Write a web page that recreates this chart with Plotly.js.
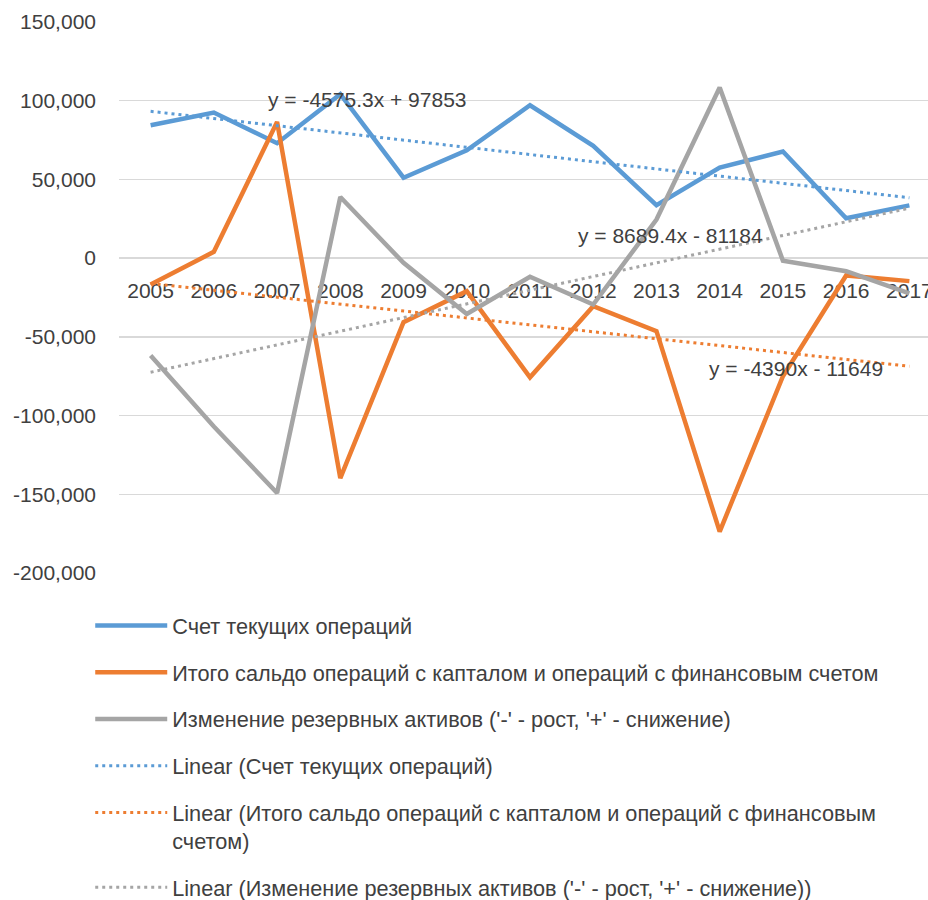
<!DOCTYPE html>
<html>
<head>
<meta charset="utf-8">
<script src="https://cdn.plot.ly/plotly-3.0.1.min.js"></script>
<style>
html, body { margin: 0; padding: 0; width: 928px; height: 900px; overflow: hidden; background: #fff; }
#chart { width: 941px; height: 930px; }
</style>
</head>
<body>
<div id="chart"></div>
<script>
const years = ['2005','2006','2007','2008','2009','2010','2011','2012','2013','2014','2015','2016','2017'];
const currentAccount = [84400, 92500, 73000, 104100, 51100, 68500, 97100, 71300, 33700, 57500, 67700, 25300, 33500];
const capitalFinancial = [-16700, 4000, 86500, -139700, -40700, -21000, -75700, -30500, -46400, -173700, -75000, -11000, -14600];
const reserveChange = [-61900, -106900, -149200, 38800, -3000, -35500, -11800, -29500, 24500, 108400, -1600, -8300, -22400];

const seriesNames = [
  'Счет текущих операций',
  'Итого сальдо операций с капталом и операций с финансовым счетом',
  "Изменение резервных активов ('-' - рост, '+' - снижение)"
];
const trendNames = [
  'Linear (Счет текущих операций)',
  'Linear (Итого сальдо операций с капталом и операций с финансовым<br>счетом)',
  "Linear (Изменение резервных активов ('-' - рост, '+' - снижение))"
];
// trendline equations as printed on the chart: y = slope * x + intercept, x = 1..13
const trendSlopes = [-4575.3, -4390, 8689.4];
const trendIntercepts = [97853, -11649, -81184];
const trendLabels = ['y = -4575.3x + 97853', 'y = -4390x - 11649', 'y = 8689.4x - 81184'];

const yTickVals = [-200000, -150000, -100000, -50000, 0, 50000, 100000, 150000];
const yTickText = ['-200,000', '-150,000', '-100,000', '-50,000', '0', '50,000', '100,000', '150,000'];

const colors = ['#5B9BD5', '#ED7D31', '#A5A5A5'];
const seriesData = [currentAccount, capitalFinancial, reserveChange];
const FONT = 'Liberation Sans, Arial, sans-serif';

const traces = [];
seriesData.forEach((vals, i) => {
  traces.push({
    type: 'scatter', mode: 'lines', x: years, y: vals, name: seriesNames[i],
    legendgroup: 'g' + i,
    line: { color: colors[i], width: 4.5 }
  });
});
seriesData.forEach((vals, i) => {
  const xs = [years[0], years[years.length - 1]];
  const ys = [trendSlopes[i] * 1 + trendIntercepts[i], trendSlopes[i] * years.length + trendIntercepts[i]];
  traces.push({
    type: 'scatter', mode: 'lines', x: xs, y: ys, name: trendNames[i],
    legendgroup: 't' + i,
    line: { color: colors[i], width: 3, dash: '3px,4px' }
  });
});

const annFont = { family: FONT, size: 21, color: '#404040' };
const layout = {
  width: 941, height: 930,
  margin: { l: 119, r: 0, t: 22, b: 357 },
  paper_bgcolor: '#fff', plot_bgcolor: '#fff',
  showlegend: true,
  font: { family: FONT, size: 21, color: '#595959' },
  xaxis: {
    type: 'category', anchor: 'free', position: 0.5704,
    range: [-0.5, 12.5],
    showgrid: false, showline: false, zeroline: false, ticks: '',
    ticklabelstandoff: 17,
    tickfont: { family: FONT, size: 21, color: '#404040' },
    layer: 'below traces', fixedrange: true
  },
  yaxis: {
    range: [-200000, 150000],
    tickvals: yTickVals, ticktext: yTickText,
    showgrid: true, gridcolor: '#D9D9D9', gridwidth: 1.3,
    zeroline: false, showline: false, ticks: '',
    ticklabelstandoff: 22,
    tickfont: { family: FONT, size: 21, color: '#404040' },
    fixedrange: true
  },
  legend: {
    orientation: 'v',
    x: -0.035, xanchor: 'left', y: -0.058, yanchor: 'top',
    font: { family: FONT, size: 21.7, color: '#404040' },
    tracegroupgap: 15.5, valign: 'top', itemwidth: 72,
    traceorder: 'grouped'
  },
  annotations: [
    { x: 3.43, y: 100900, xref: 'x', yref: 'y', text: trendLabels[0], showarrow: false, font: annFont },
    { x: 10.2, y: -70200, xref: 'x', yref: 'y', text: trendLabels[1], showarrow: false, font: annFont },
    { x: 8.22, y: 14400, xref: 'x', yref: 'y', text: trendLabels[2], showarrow: false, font: annFont }
  ]
};

Plotly.newPlot('chart', traces, layout, { displayModeBar: false, staticPlot: true });
</script>
</body>
</html>
